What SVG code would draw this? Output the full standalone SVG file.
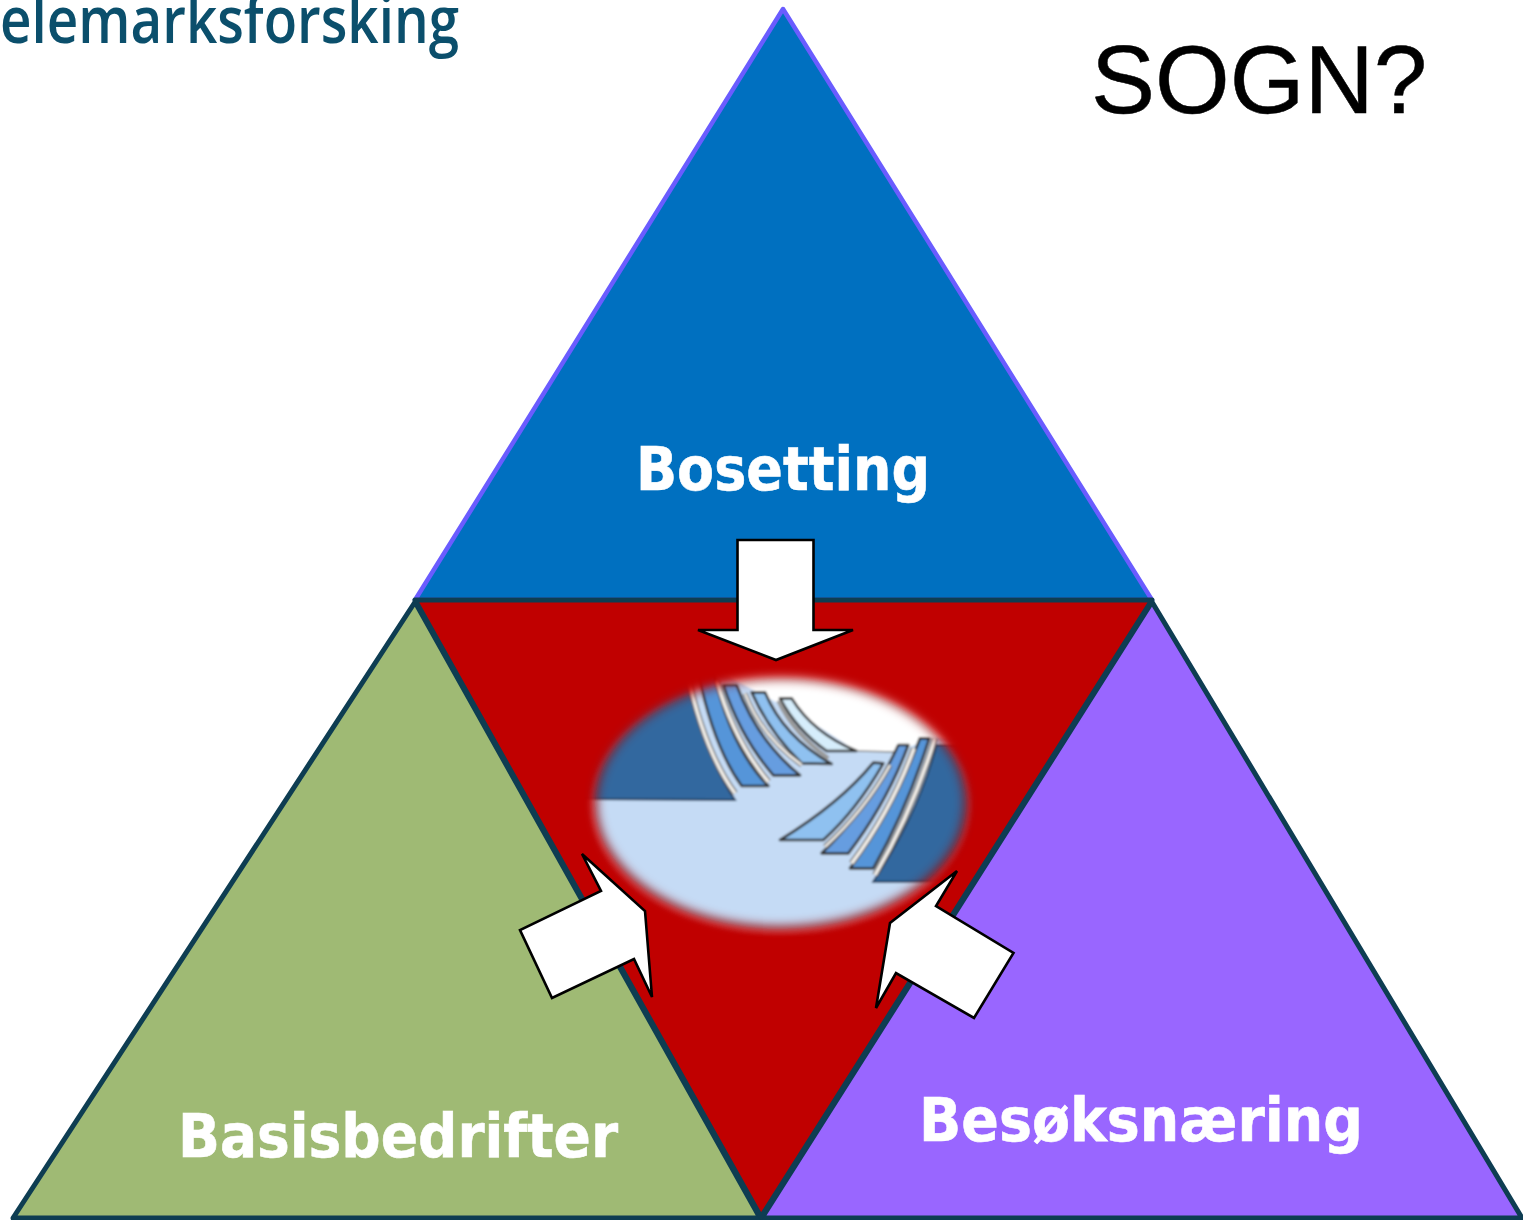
<svg xmlns="http://www.w3.org/2000/svg" width="1523" height="1220" viewBox="0 0 1523 1220">
<style>
.tri{stroke:#0e3d52;stroke-width:5;stroke-linejoin:round}
.arrow{fill:#fff;stroke:#000;stroke-width:2.6;stroke-linejoin:miter}
.lbl{font-family:"DejaVu Sans",Verdana,sans-serif;font-weight:bold;font-size:60px;fill:#fff;stroke:#fff;stroke-width:.6}
.wh{fill:none;stroke-linecap:butt}
.g{stroke:#666;stroke-width:18}
.w{stroke:#f4f1ec;stroke-width:10}
.st{stroke:#333;stroke-width:8;stroke-linejoin:round}
</style>
<defs>
<filter id="soft" x="-10%" y="-10%" width="120%" height="120%"><feGaussianBlur stdDeviation="3"/></filter>
<filter id="edge" x="-15%" y="-15%" width="130%" height="130%"><feGaussianBlur stdDeviation="16"/></filter>
<filter id="halo" x="-15%" y="-15%" width="130%" height="130%"><feGaussianBlur stdDeviation="7"/></filter>
<mask id="oval" maskUnits="userSpaceOnUse" x="0" y="0" width="1300" height="950"><ellipse cx="632" cy="458" rx="553" ry="372" fill="#fff" filter="url(#edge)"/></mask>
</defs>
<rect width="1523" height="1220" fill="#fff"/>
<g id="logo"><text x="0" y="43" font-family="'Open Sans','Noto Sans',sans-serif" font-size="66" font-weight="600" fill="#0b4f6c" textLength="459" lengthAdjust="spacingAndGlyphs">elemarksforsking</text></g>
<g id="sogn"><text x="1091" y="113" font-family="'Liberation Sans',Arial,sans-serif" font-size="96" fill="#000" stroke="#000" stroke-width=".5">SOGN?</text></g>
<g id="bosetting">
<polygon points="783,9 1152,600 415,600" fill="#0070c0" stroke="#6a5cff" stroke-width="4.5" stroke-linejoin="round"/>
<text class="lbl" x="636" y="490" textLength="294" lengthAdjust="spacingAndGlyphs">Bosetting</text></g>
<g id="basisbedrifter">
<polygon class="tri" points="415,602 760,1218 13,1218" fill="#9fba74"/>
<text class="lbl" x="178" y="1157" textLength="440" lengthAdjust="spacingAndGlyphs">Basisbedrifter</text></g>
<g id="besoksnaring">
<polygon class="tri" points="1152,602 1522,1218 762,1218" fill="#9966ff"/>
<text class="lbl" x="919" y="1141" textLength="444" lengthAdjust="spacingAndGlyphs">Besøksnæring</text></g>
<g id="center">
<polygon class="tri" points="415,600 1152,600 761,1217" fill="#c00000"/>
</g>
<g id="logo-emblem" transform="translate(570,650) scale(.33333)">
<ellipse cx="632" cy="468" rx="572" ry="386" fill="#d02a2a" opacity=".5" filter="url(#halo)"/>
<ellipse cx="632" cy="462" rx="556" ry="374" fill="#701010" opacity=".6" filter="url(#halo)"/>
<g mask="url(#oval)"><g filter="url(#soft)">
<rect x="40" y="40" width="1200" height="820" fill="#c5dbf5"/>
<polygon points="400,40 1240,40 1240,280 1100,262 975,305 860,303 700,200" fill="#fff"/>
<path d="M340,40 L40,40 L40,447 L495,450 Q400,310 340,40Z" fill="#33689f" stroke="#24405f" stroke-width="6"/>
<path d="M1100,285 L1240,285 L1240,695 L910,695 Q1040,500 1100,285Z" fill="#33689f" stroke="#24405f" stroke-width="6"/>
<path class="wh g" d="M350,60 Q400,300 495,430"/><path class="wh w" d="M350,60 Q400,300 495,430"/>
<path class="st" d="M385,70 L432,70 Q480,290 595,408 L515,408 Q430,290 385,70Z" fill="#5595d9"/>
<path class="st" d="M460,105 L500,105 Q560,270 690,376 L610,376 Q510,260 460,105Z" fill="#669de0"/>
<path class="st" d="M545,127 L585,127 Q640,260 785,342 L695,340 Q600,250 545,127Z" fill="#8fc1f0"/>
<path class="st" d="M630,145 L665,145 Q730,250 860,303 L770,303 Q680,240 630,145Z" fill="#d6edfb"/>
<path class="wh g" d="M440,90 Q490,270 595,395"/><path class="wh w" d="M440,90 Q490,270 595,395"/>
<path class="wh g" d="M525,130 Q575,260 695,345" style="stroke-width:14"/><path class="wh w" style="stroke-width:7" d="M525,130 Q575,260 695,345"/>
<path class="wh" stroke="#999" stroke-width="12" d="M625,152 Q670,250 775,325"/>
<path d="M860,303 L975,306" stroke="#888" stroke-width="5"/>
<path class="st" d="M1050,265 L1078,265 Q1010,480 910,655 L840,655 Q970,480 1050,265Z" fill="#5595d9"/>
<path class="st" d="M985,285 L1015,285 Q950,460 835,610 L755,610 Q900,470 985,285Z" fill="#669de0"/>
<path class="st" d="M910,338 L940,340 Q860,480 760,570 L630,570 Q810,460 910,338Z" fill="#8fc1f0"/>
<path class="wh g" d="M1095,265 Q1025,490 915,675"/><path class="wh w" d="M1095,265 Q1025,490 915,675"/>
<path class="wh g" d="M1032,295 Q965,480 845,640"/><path class="wh w" d="M1032,295 Q965,480 845,640"/>
<path class="wh g" d="M960,345 Q885,480 765,590" style="stroke-width:15"/><path class="wh w" style="stroke-width:7" d="M960,345 Q885,480 765,590"/>
</g></g>
</g>
<g id="connectors">
<polygon class="arrow" points="737.5,540 813.5,540 813.5,630 853,630 776,660 698,630 737.5,630"/>
<polygon class="arrow" points="582,854 645,911 652,997 634,959 552,998 520,930 601,891"/>
<polygon class="arrow" points="957,871 890,923 876,1008 896,973 974,1018 1013.5,953 936,906"/>
</g>
</svg>
